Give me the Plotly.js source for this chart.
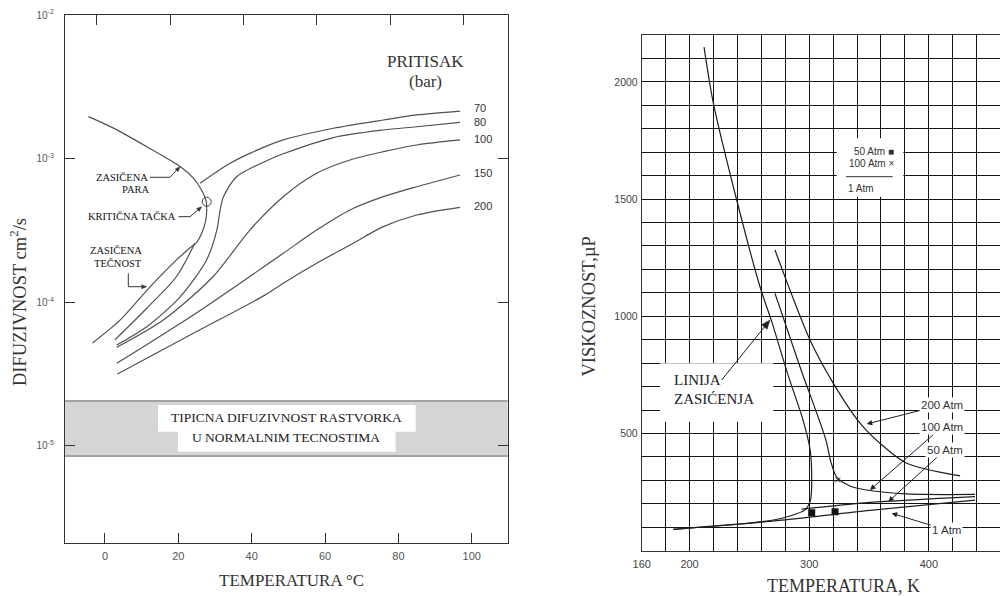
<!DOCTYPE html>
<html><head><meta charset="utf-8">
<script src="https://cdn.plot.ly/plotly-3.0.1.min.js"></script>
<style>html,body{margin:0;padding:0;background:#fff}#chart{width:1000px;height:596px}</style>
</head><body><div id="chart"></div>
<script>
// ---------- LEFT CHART: diffusivity (log scale) vs temperature (°C) ----------
const satT = [-4.5, 2.3, 11.4, 20.5, 24.1, 26.4, 27.5, 27.7, 27.5, 26.5, 25.1, 22.5, 19.5, 12.3, 4.1, -3.4];
const satD = [1.96e-3, 1.63e-3, 1.21e-3, 8.8e-4, 7.3e-4, 6.0e-4, 5.15e-4, 4.75e-4, 3.73e-4, 3.08e-4, 2.63e-4, 2.31e-4, 1.97e-4, 1.28e-4, 7.5e-5, 5.2e-5];

const p70LiqT = [2.7, 11.4, 19.5, 24.5];
const p70LiqD = [5.46e-5, 9.07e-5, 1.51e-4, 2.57e-4];
const p70VapT = [25.9, 34.1, 39.5, 48.6, 62.3, 75.9, 85.0, 96.8];
const p70VapD = [6.73e-4, 9.27e-4, 1.088e-3, 1.349e-3, 1.626e-3, 1.857e-3, 2.013e-3, 2.144e-3];

const p80T = [3.2, 11.4, 20.5, 27.7, 30.5, 31.4, 32.3, 35.9, 45.0, 48.6, 62.3, 75.9, 85.0, 96.8];
const p80D = [5.04e-5, 6.75e-5, 1.09e-4, 1.97e-4, 3.18e-4, 4.39e-4, 5.43e-4, 7.48e-4, 9.9e-4, 1.08e-3, 1.40e-3, 1.582e-3, 1.667e-3, 1.790e-3];

const p100T = [3.2, 15.9, 29.5, 39.5, 48.6, 57.7, 66.8, 75.9, 85.0, 96.8];
const p100D = [4.85e-5, 7.51e-5, 1.51e-4, 3.18e-4, 5.43e-4, 7.91e-4, 9.78e-4, 1.117e-3, 1.244e-3, 1.349e-3];

const p150T = [3.2, 24.1, 39.5, 48.6, 57.7, 66.8, 75.9, 85.0, 96.8];
const p150D = [3.75e-5, 8.15e-5, 1.51e-4, 2.19e-4, 3.18e-4, 4.39e-4, 5.43e-4, 6.37e-4, 7.69e-4];

const p200T = [3.4, 24.1, 43.6, 48.6, 57.7, 66.8, 75.9, 85.0, 96.8];
const p200D = [3.16e-5, 6.07e-5, 1.12e-4, 1.355e-4, 1.866e-4, 2.50e-4, 3.36e-4, 4.05e-4, 4.58e-4];

const pressureLabels = ['70', '80', '100', '150', '200'];
const bandLow = 8.5e-6, bandHigh = 2.05e-5;

const leftXTicks = [0, 20, 40, 60, 80, 100];
const leftYTicks = [1e-5, 1e-4, 1e-3, 1e-2];
const leftYTickText = ['10<sup>-5</sup>', '10<sup>-4</sup>', '10<sup>-3</sup>', '10<sup>-2</sup>'];

// ---------- RIGHT CHART: viscosity (µP) vs temperature (K) ----------
const rSatT = [212.1, 219.9, 239.4, 258.9, 268.7, 282.3, 294.8, 300.8, 302.1, 301.1, 296.5, 284.0, 270.0, 242.2, 186.4];
const rSatV = [2148, 1909, 1496, 1126, 977, 750, 558, 430, 302, 216, 174, 148, 131, 114, 91];

const a200T = [271.4, 300.7, 320.2, 342.5, 359.2, 381.5, 426.1];
const a200V = [1283, 899, 714, 544, 458, 373, 319];

const a100T = [271.4, 292.3, 314.0, 318.2, 322.9, 334.1, 348.1, 381.5, 438.6];
const a100V = [1098, 785, 472, 378, 315, 276, 259, 242, 240];

const a50T = [293.7, 350.8, 438.6];
const a50V = [177, 206, 231];

const a1T = [186.4, 267.2, 350.8, 438.6];
const a1V = [91, 125, 172, 216];

const m50T = [302.1, 321.6];
const m50V = [162, 166];
const m100T = [323.8];
const m100V = [302];

const rightXLabels = [160, 200, 300, 400];
const rightYLabels = [500, 1000, 1500, 2000];
const rightXRange = [160, 459.5];
const rightYRange = [0, 2200];

// ---------- helpers (page pixel -> paper) ----------
const W = 1000, H = 596;
const PX = p => p / W;
const PY = p => 1 - p / H;

const lgray = {color: '#505050', width: 1.2, shape: 'spline', smoothing: 0.8};
const dk = {color: '#1e1e1e', width: 1.2, shape: 'spline', smoothing: 0.8};

function L(x, y, line, xa, ya) {
  return {x: x, y: y, mode: 'lines', line: line, xaxis: xa, yaxis: ya, hoverinfo: 'skip'};
}
function ghost(xa, ya, x, y) {
  return {x: [x], y: [y], xaxis: xa, yaxis: ya, mode: 'markers', marker: {opacity: 0}, hoverinfo: 'skip'};
}

const traces = [
  L(satT, satD, lgray, 'x', 'y'),
  L(p70LiqT, p70LiqD, lgray, 'x', 'y'),
  L(p70VapT, p70VapD, lgray, 'x', 'y'),
  L(p80T, p80D, lgray, 'x', 'y'),
  L(p100T, p100D, lgray, 'x', 'y'),
  L(p150T, p150D, lgray, 'x', 'y'),
  L(p200T, p200D, lgray, 'x', 'y'),
  ghost('x3', 'y', 50, 1e-3),
  L(rSatT, rSatV, dk, 'x2', 'y2'),
  L(a200T, a200V, dk, 'x2', 'y2'),
  L(a100T, a100V, dk, 'x2', 'y2'),
  L(a50T, a50V, dk, 'x2', 'y2'),
  L(a1T, a1V, dk, 'x2', 'y2'),
  {x: m50T, y: m50V, xaxis: 'x2', yaxis: 'y2', mode: 'markers', marker: {symbol: 'square', size: 7, color: '#111'}, hoverinfo: 'skip'},
  {x: m100T, y: m100V, xaxis: 'x2', yaxis: 'y2', mode: 'markers', marker: {symbol: 'x-thin', size: 5, line: {color: '#333', width: 1}}, hoverinfo: 'skip'},
  ghost('x4', 'y3', 300, 1000)
];

const serif = 'Liberation Serif, Times New Roman, serif';
const sans = 'Liberation Sans, Arial, sans-serif';

const shapes = [
  // gray band of typical liquid diffusivity
  {type: 'rect', xref: 'x domain', yref: 'y', x0: 0, x1: 1, y0: bandLow, y1: bandHigh, fillcolor: '#d5d5d5', line: {width: 0}, layer: 'below'},
  {type: 'line', xref: 'x domain', yref: 'y', x0: 0, x1: 1, y0: bandLow, y1: bandLow, line: {color: '#a3a3a3', width: 2}},
  {type: 'line', xref: 'x domain', yref: 'y', x0: 0, x1: 1, y0: bandHigh, y1: bandHigh, line: {color: '#a3a3a3', width: 2}},
  {type: 'rect', xref: 'paper', yref: 'paper', x0: PX(158), x1: PX(415.7), y0: PY(431.7), y1: PY(405), fillcolor: '#fff', line: {width: 0}},
  {type: 'rect', xref: 'paper', yref: 'paper', x0: PX(178), x1: PX(395.7), y0: PY(451.7), y1: PY(431.2), fillcolor: '#fff', line: {width: 0}},
  // critical point circle
  {type: 'circle', xref: 'paper', yref: 'paper', x0: PX(202.2), x1: PX(211.2), y0: PY(206.2), y1: PY(197.2), line: {color: '#444', width: 1}},
  // leader lines
  {type: 'line', xref: 'paper', yref: 'paper', x0: PX(150), x1: PX(170), y0: PY(177.3), y1: PY(177.3), line: {color: '#333', width: 1}},
  {type: 'line', xref: 'paper', yref: 'paper', x0: PX(178.5), x1: PX(190), y0: PY(216.7), y1: PY(216.7), line: {color: '#333', width: 1}},
  {type: 'line', xref: 'paper', yref: 'paper', x0: PX(128.3), x1: PX(128.3), y0: PY(273.3), y1: PY(286.7), line: {color: '#333', width: 1}},
  // right chart white boxes (over the grid, no curves there)
  {type: 'rect', xref: 'paper', yref: 'paper', x0: PX(660), x1: PX(773.3), y0: PY(421.7), y1: PY(363.3), fillcolor: '#fff', line: {width: 0}, layer: 'above'},
  {type: 'rect', xref: 'paper', yref: 'paper', x0: PX(836.7), x1: PX(903.3), y0: PY(196.7), y1: PY(138.3), fillcolor: '#fff', line: {width: 0}, layer: 'above'},
  {type: 'line', xref: 'paper', yref: 'paper', x0: PX(846), x1: PX(892.7), y0: PY(176.7), y1: PY(176.7), line: {color: '#333', width: 1}}
];

// arrow drawn as shapes: shaft + filled head (page pixels)
function arrow(sx, sy, tx, ty, head, hw, color) {
  const dx = tx - sx, dy = ty - sy, len = Math.hypot(dx, dy);
  const ux = dx / len, uy = dy / len;
  const bx = tx - ux * head, by = ty - uy * head;
  const lx = bx - uy * hw, ly = by + ux * hw;
  const rx = bx + uy * hw, ry = by - ux * hw;
  shapes.push({type: 'line', xref: 'paper', yref: 'paper', x0: PX(sx), y0: PY(sy), x1: PX(bx), y1: PY(by), line: {color: color, width: 1}, layer: 'above'});
  shapes.push({type: 'path', xref: 'paper', yref: 'paper', layer: 'above',
    path: 'M' + PX(tx) + ',' + PY(ty) + ' L' + PX(lx) + ',' + PY(ly) + ' L' + PX(rx) + ',' + PY(ry) + ' Z',
    fillcolor: color, line: {color: color, width: 0.5}});
}
arrow(170, 177.3, 180, 166.7, 5, 2, '#333');
arrow(190, 216.7, 201.7, 206.7, 5, 2, '#333');
arrow(128.3, 286.7, 146.7, 286.7, 5, 2, '#333');
arrow(721.7, 380, 770, 320, 9, 3.5, '#222');

function T(text, x, y, opt) {
  return Object.assign({text: text, xref: 'paper', yref: 'paper', x: PX(x), y: PY(y), showarrow: false,
    xanchor: 'center', yanchor: 'middle', font: {family: serif, size: 10.5, color: '#111'}}, opt || {});
}

const annotations = [
  // axis titles
  T('DIFUZIVNOST cm<sup>2</sup>/s', 18, 302, {textangle: -90, font: {family: serif, size: 18.5, color: '#333'}}),
  T('TEMPERATURA °C', 291, 580, {font: {family: serif, size: 17, color: '#333'}}),
  T('VISKOZNOST,µP', 588, 306.5, {textangle: -90, font: {family: serif, size: 18.5, color: '#333'}}),
  T('TEMPERATURA, K', 843, 586, {font: {family: serif, size: 18, color: '#333'}}),
  // left chart labels
  T('PRITISAK', 425.3, 61.7, {font: {family: serif, size: 17, color: '#333'}}),
  T('(bar)', 425, 81.7, {font: {family: serif, size: 17, color: '#333'}}),
  T('ZASIČENA', 150, 177, {xanchor: 'right'}),
  T('PARA', 135.8, 190),
  T('KRITIČNA TAČKA', 178.3, 217, {xanchor: 'right'}),
  T('ZASIČENA', 115.8, 250),
  T('TEČNOST', 117.5, 263.3),
  T('TIPICNA DIFUZIVNOST RASTVORKA', 286.8, 417, {font: {family: serif, size: 13.5, color: '#222'}}),
  T('U NORMALNIM TECNOSTIMA', 286, 437, {font: {family: serif, size: 13.5, color: '#222'}}),
  // right chart labels
  T('LINIJA', 671.7, 380, {xanchor: 'left', font: {family: serif, size: 15, color: '#222'}}),
  T('ZASIĆENJA', 671.7, 399, {xanchor: 'left', font: {family: serif, size: 15, color: '#222'}}),
  T('50 Atm ■', 896, 151.7, {xanchor: 'right', font: {family: sans, size: 10, color: '#333'}}),
  T('100 Atm ×', 896, 164, {xanchor: 'right', font: {family: sans, size: 10, color: '#333'}}),
  T('1 Atm', 846, 188.3, {xanchor: 'left', font: {family: sans, size: 10, color: '#333'}})
];

// pressure labels at right end of the left chart
const labY = [108.3, 122.3, 139, 173.3, 206];
pressureLabels.forEach((s, i) => {
  annotations.push(T(s, 471.7, labY[i], {xanchor: 'left', font: {family: sans, size: 11, color: '#333'}}));
});

// atm labels with arrows on the right chart
function atm(text, tipx, tipy, ax, ay) {
  return {text: text, xref: 'paper', yref: 'paper', x: PX(tipx), y: PY(tipy), ax: ax, ay: ay, showarrow: true,
    arrowhead: 2, arrowsize: 1.1, arrowwidth: 1, arrowcolor: '#222', bgcolor: '#fff', borderpad: 1,
    font: {family: sans, size: 11.5, color: '#333'}};
}
annotations.push(atm('200 Atm', 866.7, 424, 75, -19));
annotations.push(atm('100 Atm', 870, 490, 71.7, -62.7));
annotations.push(atm('50 Atm', 888.3, 501.7, 56.7, -51.7));
annotations.push(atm('1 Atm', 891.7, 513.3, 55, 16.7));

const axLine = {showline: true, linecolor: '#333', linewidth: 1.4, zeroline: false};
const gridCol = '#141414';

const layout = {
  width: W, height: H,
  margin: {l: 0, r: 0, t: 0, b: 0},
  paper_bgcolor: '#fff', plot_bgcolor: 'rgba(0,0,0,0)',
  showlegend: false,
  xaxis: Object.assign({domain: [PX(65), PX(507.7)], range: [-10.9, 109.8], anchor: 'y',
    tickvals: leftXTicks, ticks: 'inside', ticklen: 10, tickwidth: 1.2, tickcolor: '#333',
    mirror: true, showgrid: false, ticklabelstandoff: 3,
    tickfont: {family: sans, size: 11, color: '#555'}}, axLine),
  xaxis3: {overlaying: 'x', side: 'top', anchor: 'y', range: [-8.63, 112.07], tickvals: leftXTicks,
    ticks: 'inside', ticklen: 10, tickwidth: 1.2, tickcolor: '#333', showticklabels: false,
    showline: false, showgrid: false, zeroline: false},
  yaxis: Object.assign({domain: [PY(543), PY(15)], type: 'log', range: [-5.677, -2], anchor: 'x',
    tickvals: leftYTicks, ticktext: leftYTickText, ticks: 'inside', ticklen: 10, tickwidth: 1.2, tickcolor: '#333',
    mirror: 'ticks', showgrid: false, ticklabelstandoff: 8,
    tickfont: {family: sans, size: 10, color: '#555'}}, axLine),
  // right chart: grid axes (no labels)
  xaxis2: Object.assign({domain: [PX(641.7), 1], range: rightXRange, anchor: 'y2',
    tick0: 160, dtick: 20, ticks: '', mirror: true, showticklabels: false,
    showgrid: true, gridcolor: gridCol, gridwidth: 1}, axLine),
  yaxis2: Object.assign({domain: [PY(550.7), PY(35)], range: rightYRange, anchor: 'x2',
    tick0: 0, dtick: 100, ticks: '', mirror: false, showticklabels: false,
    showgrid: true, gridcolor: gridCol, gridwidth: 1}, axLine),
  // right chart: label axes
  xaxis4: {overlaying: 'x2', anchor: 'y2', side: 'bottom', range: rightXRange, tickvals: rightXLabels,
    ticks: '', showgrid: false, showline: false, zeroline: false, ticklabelstandoff: 5,
    tickfont: {family: sans, size: 11, color: '#444'}},
  yaxis3: {overlaying: 'y2', anchor: 'x2', side: 'left', range: rightYRange, tickvals: rightYLabels,
    ticks: '', showgrid: false, showline: false, zeroline: false, ticklabelstandoff: 3,
    tickfont: {family: sans, size: 10.5, color: '#444'}},
  shapes: shapes,
  annotations: annotations
};

Plotly.newPlot('chart', traces, layout, {displayModeBar: false});
</script></body></html>
